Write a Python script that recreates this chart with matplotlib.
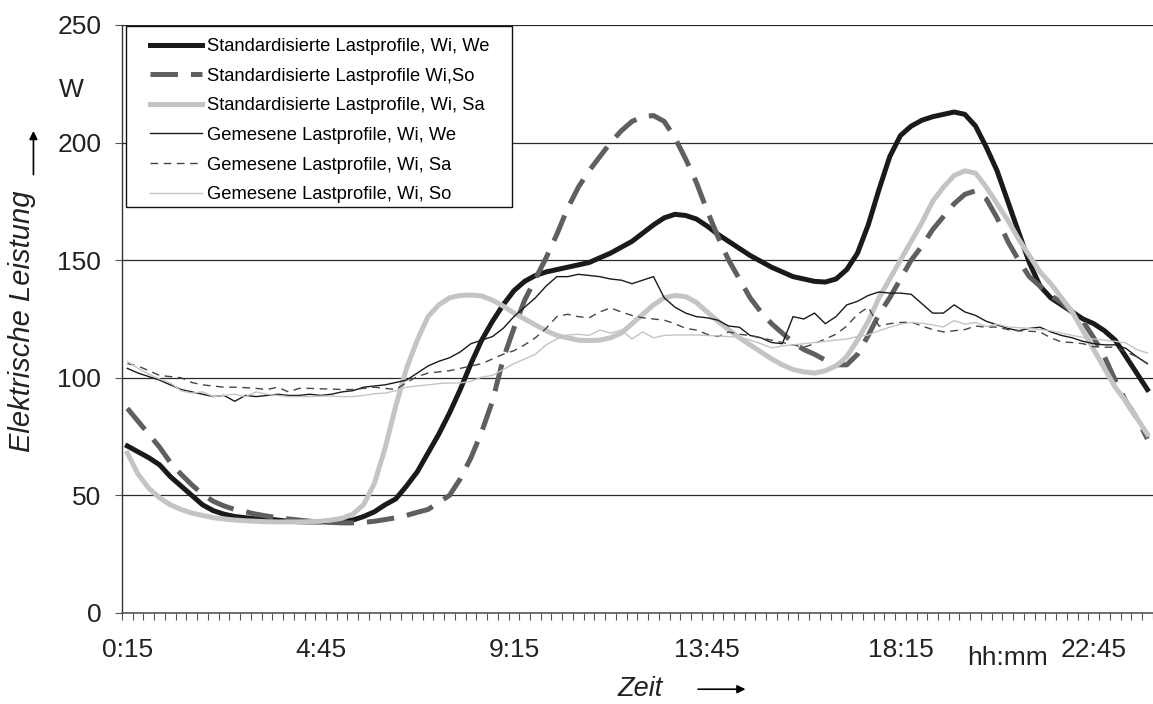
import numpy as np
import matplotlib
matplotlib.use("Agg")
import matplotlib.pyplot as plt
from matplotlib.patches import Rectangle

plt.rcParams['font.family'] = ['Liberation Sans', 'DejaVu Sans']

# time categories: 0:15 ... 24:00 in quarter hours
times = ["%d:%02d" % (((k + 1) * 15) // 60, ((k + 1) * 15) % 60) for k in range(96)]
tick_labels = ["0:15", "4:45", "9:15", "13:45", "18:15", "22:45"]

std_we = [71, 68.5, 66, 63, 58, 54, 50, 46, 43.5, 42, 41, 40.5, 40, 40, 39.5, 39,
          38.8, 38.7, 38.7, 38.8, 39, 39.5, 41, 43, 46, 48.5, 54, 60, 68, 76, 85, 95,
          106, 116, 124, 131, 137, 141, 143.5, 145, 146, 147, 148, 149, 151, 153, 155.5, 158,
          161.5, 165, 168, 169.5, 169, 167.5, 164.5, 161, 158, 155, 152, 149.5, 147, 145, 143, 142,
          141, 140.7, 142, 146, 153, 165, 180, 194, 203, 207, 209.5, 211, 212, 213, 212, 207,
          198, 188, 175, 162, 149, 139, 134, 131, 128, 125, 123, 120, 116, 109, 102, 95]

std_so = [87, 81.5, 76, 70.5, 64, 59, 54.5, 50.5, 47.5, 45.5, 44, 43, 42, 41.2, 40.5, 40,
          39.5, 39, 38.7, 38.5, 38.3, 38.3, 38.5, 39, 39.7, 40.5, 41.5, 42.8, 44, 47, 50, 57,
          66, 77, 90, 108, 121, 133, 142, 151, 161, 172, 181, 188, 194, 200, 205, 209,
          211, 211.5, 209, 202, 193, 183, 171, 160, 150, 142, 134, 128, 123, 119, 115, 112,
          110, 107.5, 105.5, 105.5, 110, 118, 127, 134, 142, 150, 156, 163, 168.5, 174, 178, 179.5,
          176, 168, 158, 150, 143, 139, 135, 132, 128, 124, 117, 109, 99, 90, 83, 74]

std_sa = [68, 59, 53, 49, 46, 44, 42.5, 41.5, 40.5, 40, 39.5, 39.2, 39, 38.8, 38.7, 38.7,
          38.7, 38.8, 39, 39.5, 40.3, 42, 46, 55, 70, 88, 104, 116, 126, 131, 134, 135,
          135.2, 134.8, 133, 130.5, 127.5, 125, 122.5, 120, 118, 117, 116, 115.8, 116, 117, 119, 123,
          127, 131, 134, 135, 134.5, 132, 128, 124, 120.5, 117, 114, 111, 108, 105.5, 103.5, 102.5,
          102, 103, 105, 109, 116, 124, 134, 142, 150, 158, 166, 175, 181, 186, 188, 187,
          181, 174, 167, 159, 152, 145, 140, 134, 128, 120, 112, 104, 96, 90, 83, 76]

gem_we = [104, 102, 100.5, 99, 97, 95, 94, 93, 92, 92.5, 90, 92.5, 92, 92.5, 93, 92.5,
          92.5, 93, 92.5, 93, 94, 94.5, 96, 96.5, 97, 98, 99, 102, 105, 107, 108.5, 111,
          114.5, 116, 117.5, 121, 126, 130, 134, 139, 143, 143, 144, 143.5, 143, 142, 141.5, 140,
          141.5, 143, 134, 130, 127.5, 126, 125.5, 124.5, 122, 121.5, 118, 117, 115, 114.5, 126, 125,
          127.5, 123, 126, 131, 132.5, 135, 136.5, 136, 136, 135.5, 131.5, 127.5, 127.5, 131, 128, 126.5,
          124, 122.5, 121, 120, 121, 121.5, 119.5, 118, 117, 115.5, 114.5, 114, 114, 112.5, 109, 106]

gem_sa = [106, 105, 103, 101, 100.5, 100, 98, 97, 96.5, 96, 96, 95.8, 95.5, 95, 96, 94,
          95.5, 95.5, 95.3, 95.2, 95, 95, 95.5, 96, 95.5, 95, 98, 100.5, 102, 102.5, 103, 104,
          105, 106, 108, 110, 111.5, 114, 117, 121, 126, 127, 126, 125.5, 128, 129.7, 128, 126.5,
          125.5, 125, 124.5, 123, 121, 120.3, 118.5, 117.5, 119.5, 118.5, 118, 117, 116, 115, 114, 113,
          114.5, 116.5, 118.5, 122, 127, 130, 122, 123, 123.5, 123.7, 122, 120.5, 119.5, 120, 120.5, 122,
          121.5, 121.6, 120.5, 120, 119.8, 119.5, 117, 115.2, 115, 114.5, 113.2, 113, 113, 111, 109, 106]

gem_so = [107, 104, 101.5, 99.5, 97.8, 94.5, 93.5, 94, 92, 92.5, 93, 92, 94, 93, 92.5, 92,
          92, 92, 92.2, 92.2, 92, 92, 92.5, 93.2, 93.5, 94.5, 96, 96.5, 97, 97.5, 97.8, 97.8,
          98.5, 100.3, 101, 103.5, 106, 108, 110, 114, 116.5, 118.2, 118.5, 118, 120.3, 119, 120.3, 116.5,
          119.5, 117, 118, 118.2, 118.2, 118.2, 118, 117.8, 117.5, 117.3, 116, 114.5, 112.7, 113.5, 114, 114.5,
          115, 115.5, 116, 116.5, 117.5, 118.2, 120, 121.5, 122.8, 123.5, 123.2, 122.5, 121.6, 124.3, 122.8, 123.5,
          121.8, 122.8, 121.6, 121.3, 121, 120.5, 120, 119, 118, 117.2, 116.5, 116, 115.5, 114.8, 112, 110.5]

x = np.arange(len(times))

fig = plt.figure(figsize=(11.53, 7.04), dpi=100)
ax = fig.add_axes([0.1058, 0.1293, 0.894, 0.8352])

# gridlines
for g in [50, 100, 150, 200, 250]:
    ax.axhline(g, color='#2a2a2a', lw=0.9, zorder=1)

ax.plot(x, std_we, color='#1a1a1a', lw=3.6, label='Standardisierte Lastprofile, Wi, We', zorder=3)
ax.plot(x, std_so, color='#5f5f5f', lw=3.6, linestyle=(0, (5.5, 2.6)),
        label='Standardisierte Lastprofile Wi,So', zorder=3)
ax.plot(x, std_sa, color='#c4c4c4', lw=3.6, label='Standardisierte Lastprofile, Wi, Sa', zorder=3)
ax.plot(x, gem_we, color='#1a1a1a', lw=1.0, label='Gemesene Lastprofile, Wi, We', zorder=4)
ax.plot(x, gem_sa, color='#454545', lw=1.0, linestyle=(0, (5.5, 4)),
        label='Gemesene Lastprofile, Wi, Sa', zorder=4)
ax.plot(x, gem_so, color='#c4c4c4', lw=1.0, label='Gemesene Lastprofile, Wi, So', zorder=4)

ax.set_xlim(-0.5, 95.5)
ax.set_ylim(0, 250)

ax.set_xticks([times.index(t) for t in tick_labels])
ax.set_xticklabels(tick_labels)
ax.set_xticks(np.arange(-0.5, 96, 1), minor=True)
ax.tick_params(axis='x', which='major', length=0, pad=18, labelsize=19, colors='#222222')
ax.tick_params(axis='x', which='minor', length=5, width=0.8, color='#555555', direction='out')
ax.set_yticks([0, 50, 100, 150, 200, 250])
ax.tick_params(axis='y', length=5, width=0.8, color='#555555', labelsize=19, pad=10,
               labelcolor='#222222')

for s in ['top', 'right']:
    ax.spines[s].set_visible(False)
ax.spines['left'].set_color('#333333')
ax.spines['bottom'].set_color('#555555')
ax.spines['left'].set_linewidth(1.0)
ax.spines['bottom'].set_linewidth(1.2)

# legend box drawn separately so the inner padding matches
ax.add_patch(Rectangle((0.0039, 0.690), 0.374, 0.308, transform=ax.transAxes,
                       facecolor='white', edgecolor='#111111', lw=1.0, zorder=5))
leg = ax.legend(loc='upper left', bbox_to_anchor=(0.0272, 0.978), fontsize=13.2,
                frameon=False, borderpad=0, labelspacing=0.69, handlelength=2.84,
                handletextpad=0.27, borderaxespad=0)
leg.set_zorder(6)

# axis titles with arrows
fig.text(0.019, 0.543, 'Elektrische Leistung', rotation=90, style='italic', fontsize=21,
         ha='center', va='center', color='#222222')
fig.text(0.062, 0.872, 'W', fontsize=19, ha='center', va='center', color='#222222')
ax.annotate('', xy=(0.029, 0.818), xytext=(0.029, 0.748), xycoords='figure fraction',
            textcoords='figure fraction', annotation_clip=False,
            arrowprops=dict(arrowstyle='-|>', color='black', lw=1.2, mutation_scale=12))
fig.text(0.555, 0.022, 'Zeit', style='italic', fontsize=19.5, ha='center', va='center',
         color='#222222')
ax.annotate('', xy=(0.649, 0.021), xytext=(0.603, 0.021), xycoords='figure fraction',
            textcoords='figure fraction', annotation_clip=False,
            arrowprops=dict(arrowstyle='-|>', color='black', lw=1.2, mutation_scale=12))
fig.text(0.874, 0.0554, 'hh:mm', fontsize=19, ha='center', va='baseline', color='#222222')

fig.savefig('out.png', dpi=100)
